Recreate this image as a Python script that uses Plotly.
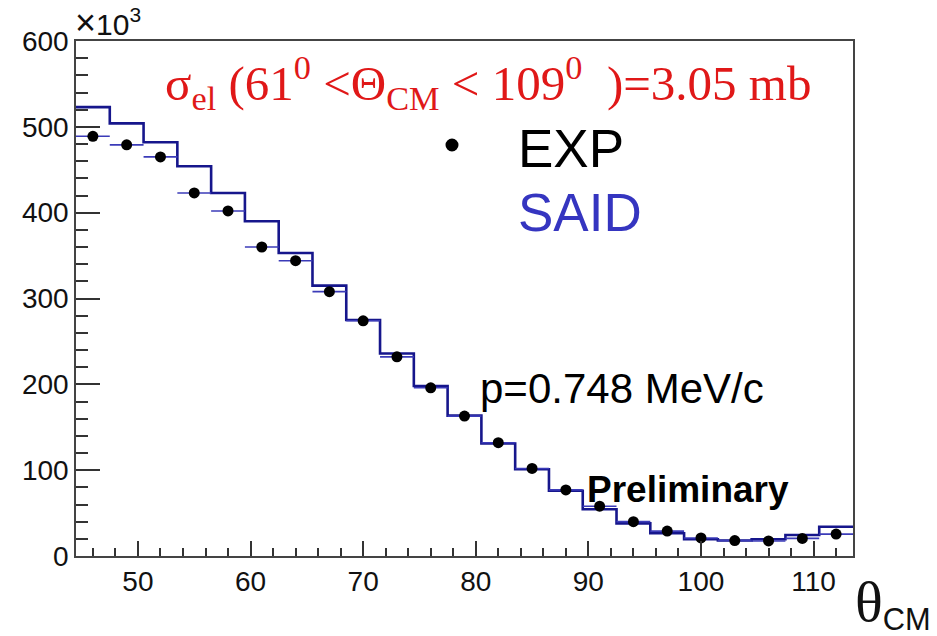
import plotly.graph_objects as go

# ---- data (values in units of 10^3) ----
theta_centers = [46, 49, 52, 55, 58, 61, 64, 67, 70, 73, 76, 79, 82, 85, 88, 91, 94, 97, 100, 103, 106, 109, 112]
bin_width = 3
exp_values = [489, 479, 465, 423, 402, 360, 344, 308, 274, 232, 196, 163, 132, 102, 77, 58, 40, 29, 21, 18, 17.5, 20.5, 25.5]
said_values = [523, 504, 482, 454, 423, 390, 353, 315, 275, 236, 198, 163.5, 131, 101, 76, 54.5, 38, 26.5, 19.5, 18, 19.5, 24.5, 34]

W, H = 937, 636
L, R, T, B = 76, 853, 41, 556

def px(x):
    return (x - L) / (R - L)

def py(y):
    return (B - y) / (B - T)

# step outline for SAID histogram
half = bin_width / 2
step_x = [c - half for c in theta_centers] + [theta_centers[-1] + half]
step_y = said_values + [said_values[-1]]

fig = go.Figure()
fig.add_trace(go.Scatter(
    x=step_x, y=step_y, mode="lines", line_shape="hv",
    line=dict(color="#16168c", width=2.6), showlegend=False, hoverinfo="skip"))
fig.add_trace(go.Scatter(
    x=theta_centers, y=exp_values, mode="markers",
    marker=dict(color="black", size=11, symbol="circle"),
    error_x=dict(type="constant", value=half, color="#3b3bb8", thickness=1.6, width=0),
    showlegend=False))

axis_common = dict(
    showgrid=False, zeroline=False, showline=True, linecolor="#444", linewidth=1.5,
    mirror=True, ticks="inside", tickcolor="#333", tickwidth=1.5,
    tickfont=dict(family="Liberation Sans, Arial, sans-serif", size=28, color="#111"),
)

fig.update_xaxes(range=[44.5, 113.5], dtick=10, tick0=0, ticklen=15,
                 minor=dict(dtick=2, ticklen=8, ticks="inside", tickcolor="#333", tickwidth=1.5),
                 **axis_common)
fig.update_yaxes(range=[0, 600], dtick=100, tick0=0, ticklen=24,
                 minor=dict(dtick=20, ticklen=12, ticks="inside", tickcolor="#333", tickwidth=1.5),
                 **axis_common)

annots = [
    dict(text="σ<sub>el</sub> (61<sup>0</sup> &lt;Θ<sub>CM</sub> &lt; 109<sup>0</sup>  )=3.05 mb",
         x=px(163), y=py(82), xanchor="left", yanchor="middle",
         font=dict(family="Liberation Serif, Times New Roman, serif", size=49, color="#e01818")),
    dict(text="EXP", x=px(516), y=py(148), xanchor="left", yanchor="middle",
         font=dict(family="Liberation Sans, Arial, sans-serif", size=53, color="black")),
    dict(text="SAID", x=px(516), y=py(212), xanchor="left", yanchor="middle",
         font=dict(family="Liberation Sans, Arial, sans-serif", size=53, color="#3535c0")),
    dict(text="p=0.748 MeV/c", x=px(478), y=py(388), xanchor="left", yanchor="middle",
         font=dict(family="Liberation Sans, Arial, sans-serif", size=42, color="black")),
    dict(text="<b>Preliminary</b>", x=px(585), y=py(489), xanchor="left", yanchor="middle",
         font=dict(family="Liberation Sans, Arial, sans-serif", size=37, color="black")),
    dict(text='<span style="font-size:36px">×</span>10<sup>3</sup>', x=px(73), y=py(22),
         xanchor="left", yanchor="middle",
         font=dict(family="Liberation Sans, Arial, sans-serif", size=30, color="#111")),
    dict(text='<span style="font-family:Liberation Serif, serif;font-size:58px">θ</span><sub>CM</sub>',
         x=px(933), y=py(603), xanchor="right", yanchor="middle",
         font=dict(family="Liberation Sans, Arial, sans-serif", size=44, color="#111")),
]
for a in annots:
    a.update(xref="paper", yref="paper", showarrow=False)

fig.update_layout(
    width=W, height=H, autosize=False,
    margin=dict(l=L, r=W - R, t=T, b=H - B, pad=0),
    paper_bgcolor="white", plot_bgcolor="white",
    annotations=annots,
    shapes=[dict(type="circle", xref="paper", yref="paper",
                 x0=px(445.5), x1=px(458.5), y0=py(151.5), y1=py(138.5),
                 fillcolor="black", line=dict(color="black", width=0))],
)

fig.write_html("out.html")
